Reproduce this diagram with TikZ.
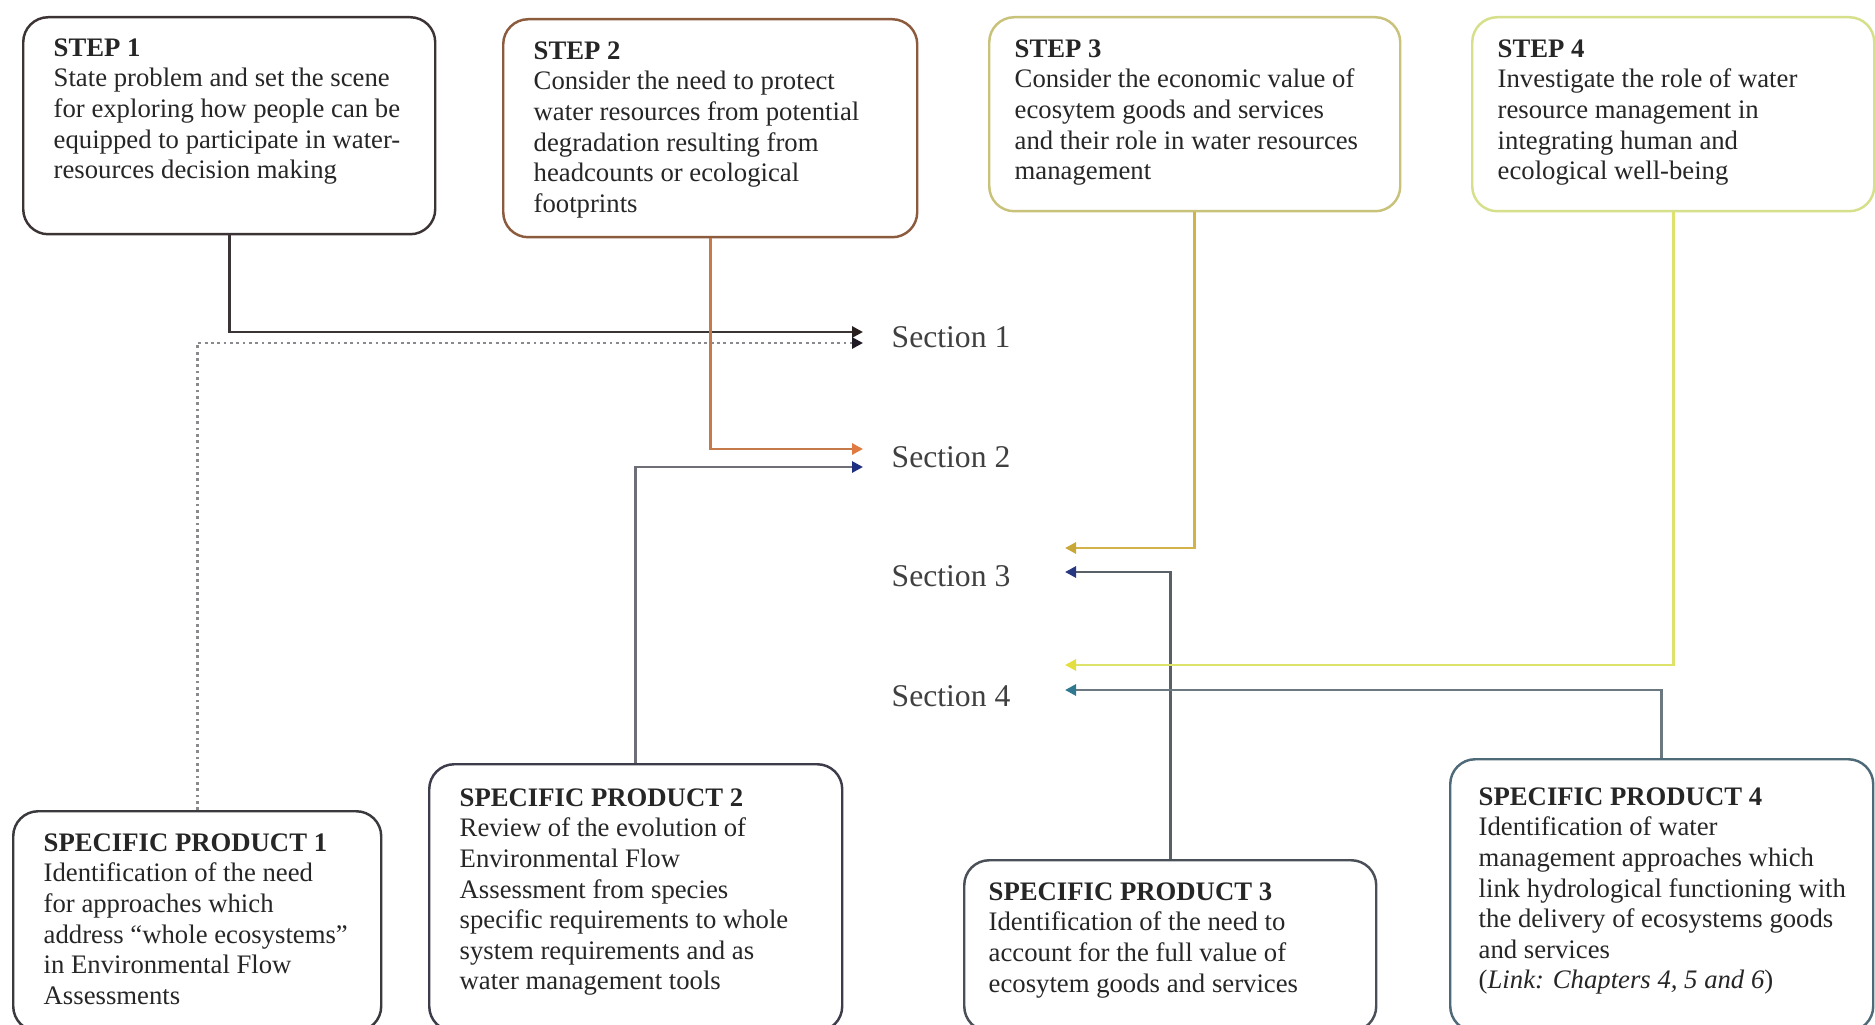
\documentclass[tikz,border=0pt]{standalone}
\usepackage{fontspec}
\setmainfont{Liberation Serif}
\usetikzlibrary{arrows.meta}

\definecolor{bordA}{HTML}{3C3434}
\definecolor{bordB}{HTML}{8C5A3C}
\definecolor{bordC}{HTML}{C9C27A}
\definecolor{bordD}{HTML}{D6E08A}
\definecolor{bordE}{HTML}{3A3A3E}
\definecolor{bordF}{HTML}{3C3C4A}
\definecolor{bordG}{HTML}{4A5058}
\definecolor{bordH}{HTML}{4E6A78}
\definecolor{lineA}{HTML}{3A3434}
\definecolor{lineB}{HTML}{C47A4A}
\definecolor{lineC}{HTML}{D4B24A}
\definecolor{lineD}{HTML}{DCE26A}
\definecolor{lineE}{HTML}{8A8A8E}
\definecolor{lineF}{HTML}{6E6E78}
\definecolor{lineG}{HTML}{5A6068}
\definecolor{lineH}{HTML}{6C7880}
\definecolor{tipA}{HTML}{2A2020}
\definecolor{tipB}{HTML}{E07A40}
\definecolor{tipC}{HTML}{C8A838}
\definecolor{tipD}{HTML}{E4DE40}
\definecolor{tipE}{HTML}{201A24}
\definecolor{tipF}{HTML}{203080}
\definecolor{tipG}{HTML}{283880}
\definecolor{tipH}{HTML}{307890}

\begin{document}
\begin{tikzpicture}[x=0.1mm,y=-0.1mm,
    box/.style={draw,line width=0.7pt,rounded corners=2.5mm,anchor=north west,inner sep=0pt},
    txt/.style={anchor=north west,inner sep=0pt,align=left,
      font=\fontsize{7.6pt}{8.7pt}\selectfont,text=black!85},
    sect/.style={anchor=west,inner sep=0pt,font=\fontsize{9pt}{10pt}\selectfont,text=black!75},
    link/.style={line width=0.8pt},
    arr/.style={-{Triangle[length=1.1mm,width=1.1mm,color=#1]}}]
  \useasboundingbox (0,0) rectangle (1875,1024);
  \fill[white] (0,0) rectangle (1875,1024);
  \clip (0,0) rectangle (1875,1024);

  % steps
  \node[box,draw=bordA,minimum width=41.2mm,minimum height=21.7mm] (step1) at (22,16) {};
  \node[box,draw=bordB,minimum width=41.4mm,minimum height=21.8mm] (step2) at (502,18) {};
  \node[box,draw=bordC,minimum width=41.1mm,minimum height=19.4mm] (step3) at (988,16) {};
  \node[box,draw=bordD,minimum width=40.2mm,minimum height=19.4mm] (step4) at (1471,16) {};

  \node[txt] (step1txt) at ([xshift=3.1mm,yshift=-2.2mm]step1.north west)
    {\textbf{STEP 1}\\State problem and set the scene\\for exploring how people can be\\
     equipped to participate in water-\\resources decision making};
  \node[txt] (step2txt) at ([xshift=3.1mm,yshift=-2.3mm]step2.north west)
    {\textbf{STEP 2}\\Consider the need to protect\\water resources from potential\\
     degradation resulting from\\headcounts or ecological\\footprints};
  \node[txt] (step3txt) at ([xshift=2.6mm,yshift=-2.3mm]step3.north west)
    {\textbf{STEP 3}\\Consider the economic value of\\ecosytem goods and services\\
     and their role in water resources\\management};
  \node[txt] (step4txt) at ([xshift=2.6mm,yshift=-2.3mm]step4.north west)
    {\textbf{STEP 4}\\Investigate the role of water\\resource management in\\
     integrating human and\\ecological well-being};

  % products
  \node[box,draw=bordE,minimum width=36.8mm,minimum height=22mm] (prod1) at (12,810) {};
  \node[box,draw=bordF,minimum width=41.3mm,minimum height=26.7mm] (prod2) at (428,763) {};
  \node[box,draw=bordG,minimum width=41.2mm,minimum height=17.1mm] (prod3) at (963,859) {};
  \node[box,draw=bordH,minimum width=42.3mm,minimum height=27.2mm] (prod4) at (1449,758) {};

  \node[txt] (prod1txt) at ([xshift=3.1mm,yshift=-2.3mm]prod1.north west)
    {\textbf{SPECIFIC PRODUCT 1}\\Identification of the need\\for approaches which\\
     address “whole ecosystems”\\in Environmental Flow\\Assessments};
  \node[txt] (prod2txt) at ([xshift=3.1mm,yshift=-2.5mm]prod2.north west)
    {\textbf{SPECIFIC PRODUCT 2}\\Review of the evolution of\\Environmental Flow\\
     Assessment from species\\specific requirements to whole\\system requirements and as\\
     water management tools};
  \node[txt] (prod3txt) at ([xshift=2.5mm,yshift=-2.3mm]prod3.north west)
    {\textbf{SPECIFIC PRODUCT 3}\\Identification of the need to\\account for the full value of\\
     ecosytem goods and services};
  \node[txt] (prod4txt) at ([xshift=2.9mm,yshift=-2.9mm]prod4.north west)
    {\textbf{SPECIFIC PRODUCT 4}\\Identification of water\\management approaches which\\
     link hydrological functioning with\\the delivery of ecosystems goods\\and services\\
     (\textit{Link: Chapters 4, 5 and 6})};

  % sections
  \node[sect] (sec1) at (891,337) {Section 1};
  \node[sect] (sec2) at (891,457) {Section 2};
  \node[sect] (sec3) at (891,576) {Section 3};
  \node[sect] (sec4) at (891,696) {Section 4};

  \draw[link,draw=lineA,arr=tipA] (step1.south) |- ([xshift=-2.8mm,yshift=0.5mm]sec1.west);
  \draw[link,draw=lineE,densely dotted,arr=tipE] (prod1.north) |- ([xshift=-2.8mm,yshift=-0.6mm]sec1.west);
  \draw[link,draw=lineB,arr=tipB] (step2.south) |- ([xshift=-2.8mm,yshift=0.8mm]sec2.west);
  \draw[link,draw=lineF,arr=tipF] (prod2.north) |- ([xshift=-2.8mm,yshift=-1mm]sec2.west);
  \draw[link,draw=lineC,arr=tipC] (step3.south) |- ([xshift=5.4mm,yshift=2.8mm]sec3.east);
  \draw[link,draw=lineG,arr=tipG] (prod3.north) |- ([xshift=5.4mm,yshift=0.4mm]sec3.east);
  \draw[link,draw=lineD,arr=tipD] (step4.south) |- ([xshift=5.4mm,yshift=3.1mm]sec4.east);
  \draw[link,draw=lineH,arr=tipH] (prod4.north) |- ([xshift=5.4mm,yshift=0.6mm]sec4.east);
\end{tikzpicture}
\end{document}
